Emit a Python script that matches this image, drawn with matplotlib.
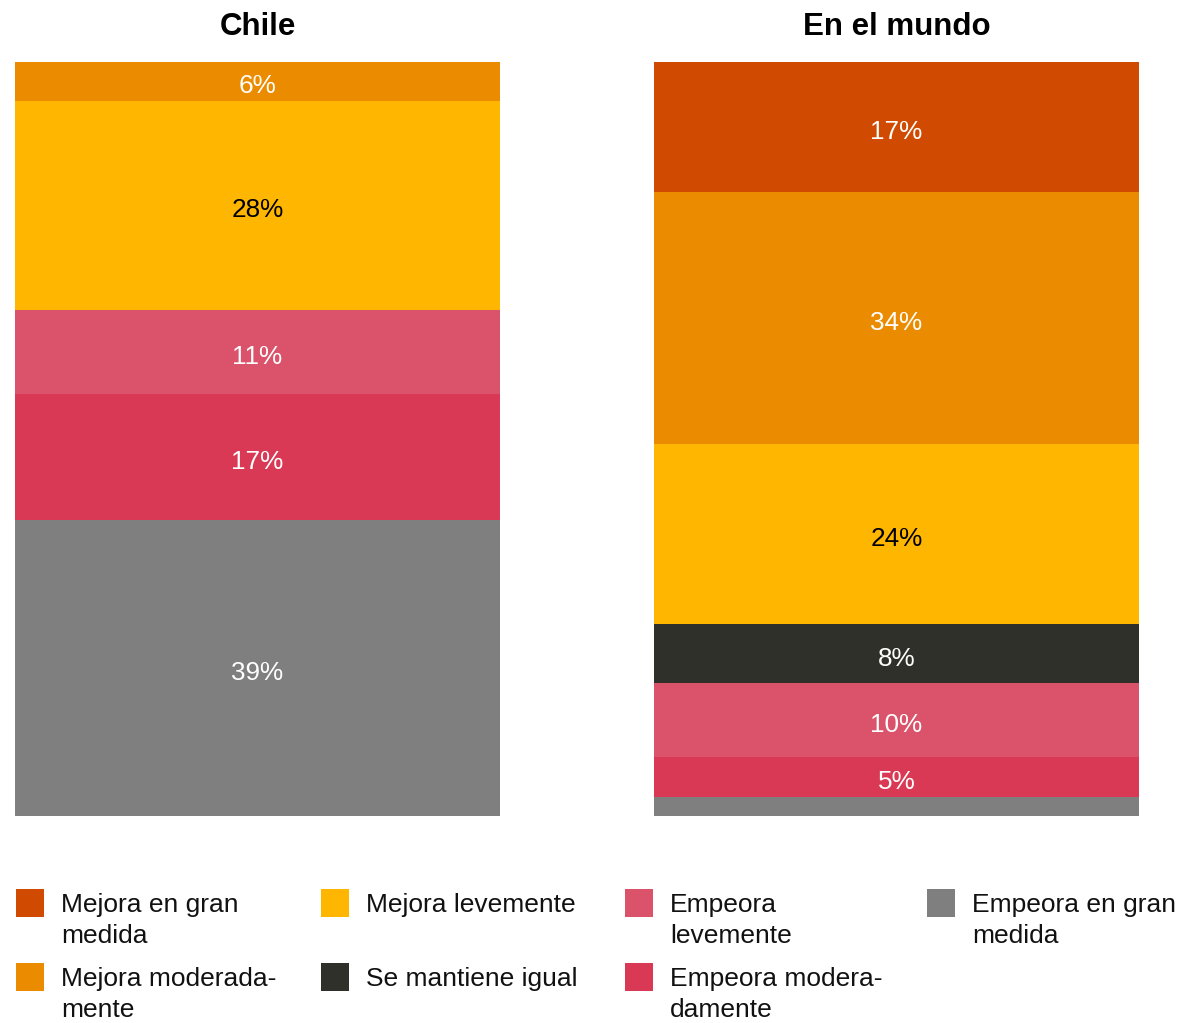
import matplotlib.pyplot as plt
from matplotlib.patches import Rectangle

plt.rcParams['font.family'] = ['Liberation Sans', 'DejaVu Sans']

GROUPS = ['Chile', 'En el mundo']
CATEGORIES = ['Mejora en gran medida', 'Mejora moderadamente', 'Mejora levemente',
              'Se mantiene igual', 'Empeora levemente', 'Empeora moderadamente',
              'Empeora en gran medida']
LEGEND_LABELS = ['Mejora en gran\nmedida', 'Mejora moderada-\nmente', 'Mejora levemente',
                 'Se mantiene igual', 'Empeora\nlevemente', 'Empeora modera-\ndamente',
                 'Empeora en gran\nmedida']
COLORS = ['#D04A02', '#EB8C00', '#FFB600', '#30302B', '#DB536A', '#D93954', '#7F7F7F']
TEXT_COLORS = ['white', 'white', 'black', 'white', 'white', 'white', 'white']

# segment shares, top to bottom (as drawn)
CHILE = [0.0, 5.2, 27.7, 0.0, 11.1, 16.7, 39.3]
MUNDO = [17.3, 33.4, 23.9, 7.8, 9.8, 5.3, 2.5]
CHILE_LABELS = ['', '6%', '28%', '', '11%', '17%', '39%']
MUNDO_LABELS = ['17%', '34%', '24%', '8%', '10%', '5%', '']

W, H = 1179, 1023
fig = plt.figure(figsize=(W / 100, H / 100), dpi=100)
ax = fig.add_axes([15 / W, 1 - 816 / H, (1139 - 15) / W, (816 - 62) / H])

bar_w = 485 / 639
for xi, (vals, labs) in enumerate([(CHILE, CHILE_LABELS), (MUNDO, MUNDO_LABELS)]):
    top = sum(vals)
    for v, lab, c, tc in zip(vals, labs, COLORS, TEXT_COLORS):
        if v <= 0:
            continue
        bottom = top - v
        ax.bar(xi, v, bottom=bottom, width=bar_w, color=c, linewidth=0)
        if lab:
            ax.annotate(lab, (xi, bottom + v / 2), xytext=(0, -3.5),
                        textcoords='offset points', ha='center', va='center',
                        color=tc, fontsize=18.8)
        top = bottom
    ax.annotate(GROUPS[xi], (xi, 100), xytext=(0, 25), textcoords='offset points',
                ha='center', va='center', fontsize=22.5, fontweight='bold',
                annotation_clip=False)

ax.set_xlim(-bar_w / 2, 1 + bar_w / 2)
ax.set_ylim(0, 100)
ax.axis('off')

# legend, column-major, 4 columns x 2 rows
col_x = [16, 321, 625, 927]
row_y = [889, 963]
for i, (lab, c) in enumerate(zip(LEGEND_LABELS, COLORS)):
    cx = col_x[i // 2]
    ry = row_y[i % 2]
    fig.patches.append(Rectangle((cx / W, 1 - (ry + 28) / H), 28 / W, 28 / H,
                                 transform=fig.transFigure, color=c, linewidth=0))
    fig.text((cx + 45) / W, 1 - (ry + 4) / H, lab, ha='left', va='top',
             fontsize=19, color='#111111', linespacing=1.36)

fig.savefig('out.png', dpi=100)
